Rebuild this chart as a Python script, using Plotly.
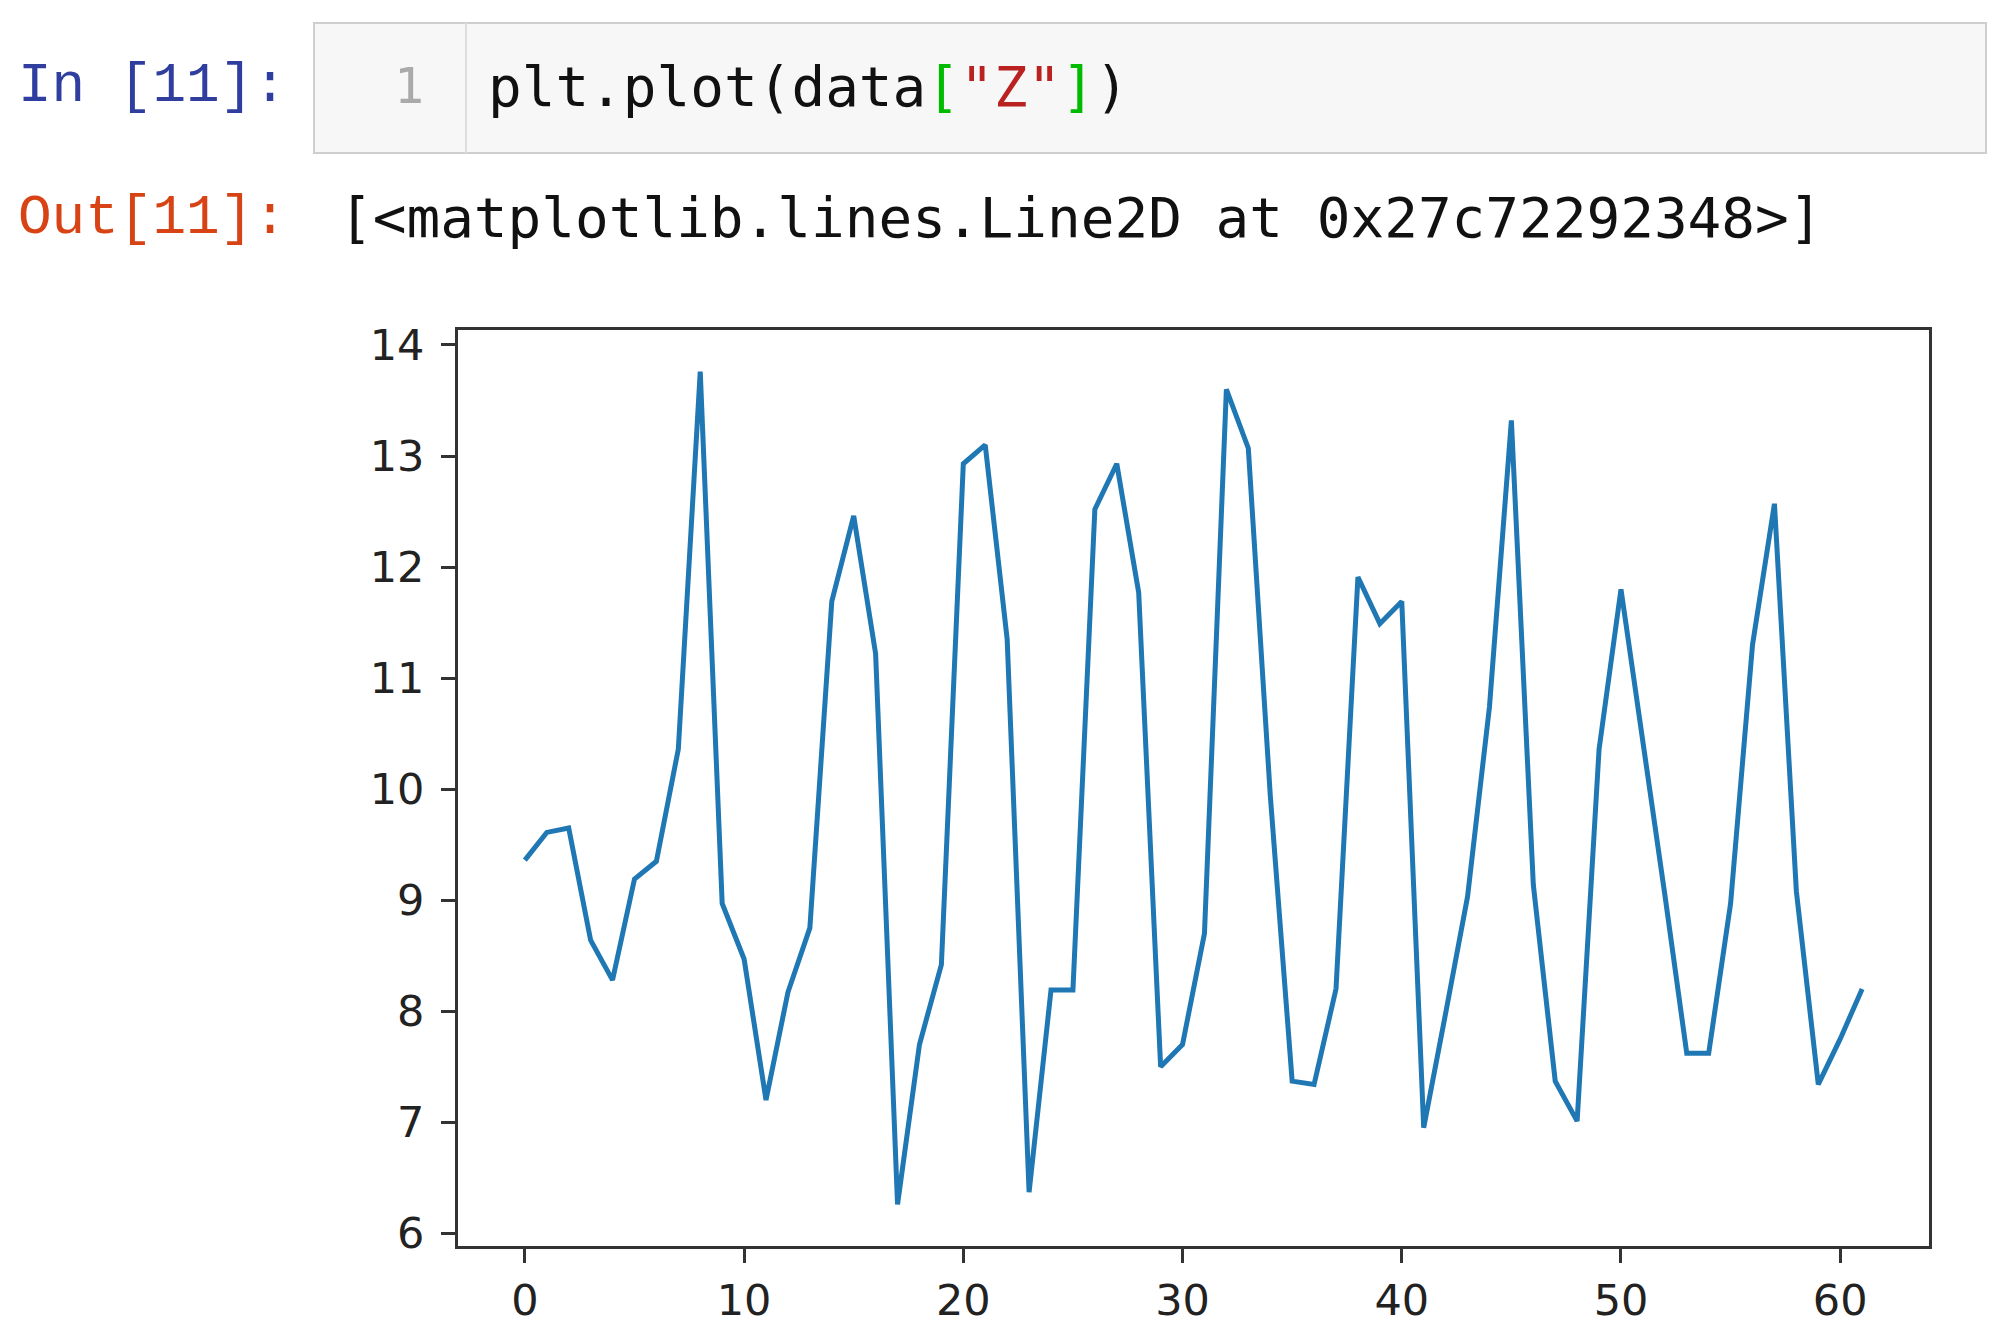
import plotly.graph_objects as go

# ---- data ----
z_index = list(range(62))
z_values = [9.36, 9.61, 9.65, 8.64, 8.28, 9.19, 9.35, 10.36, 13.76, 8.97,
            8.47, 7.20, 8.17, 8.75, 11.69, 12.46, 11.22, 6.26, 7.70, 8.42,
            12.93, 13.10, 11.35, 6.37, 8.19, 8.19, 12.52, 12.93, 11.77, 7.50,
            7.70, 8.70, 13.60, 13.07, 9.95, 7.37, 7.34, 8.20, 11.91, 11.49,
            11.69, 6.95, 7.98, 9.03, 10.74, 13.32, 9.14, 7.37, 7.01, 10.36,
            11.80, 10.45, 9.05, 7.62, 7.62, 8.97, 11.30, 12.57, 9.08, 7.34,
            7.75, 8.20]
x_ticks = [0, 10, 20, 30, 40, 50, 60]
y_ticks = [6, 7, 8, 9, 10, 11, 12, 13, 14]

W, H = 2012, 1335
OFF = 8  # page body offset
def px(x):
    return (x - OFF) / W
def py(y):
    return 1 - (y - OFF) / H

# matplotlib-style 5% margins
xmin, xmax = min(z_index), max(z_index)
ymin, ymax = min(z_values), max(z_values)
xr = [xmin - 0.05 * (xmax - xmin), xmax + 0.05 * (xmax - xmin)]
yr = [ymin - 0.05 * (ymax - ymin), ymax + 0.05 * (ymax - ymin)]

fig = go.Figure()
fig.add_trace(go.Scatter(x=z_index, y=z_values, mode="lines",
                         line=dict(color="#1f77b4", width=5), showlegend=False))

axis_common = dict(showgrid=False, zeroline=False, showline=True, mirror=True,
                   linecolor="#333333", linewidth=3, ticks="outside", ticklen=14,
                   tickwidth=3, tickcolor="#333333", automargin=False,
                   tickfont=dict(family="DejaVu Sans", size=43, color="#222222"))

fig.update_layout(
    width=W, height=H,
    margin=dict(l=0, r=0, t=0, b=0, pad=0),
    paper_bgcolor="white", plot_bgcolor="white",
    xaxis=dict(domain=[px(458), px(1929)], range=xr, tickvals=x_ticks, **axis_common),
    yaxis=dict(domain=[py(1246), py(330)], range=yr, tickvals=y_ticks,
               ticklabelstandoff=8, **axis_common),
)

# notebook cell chrome
fig.add_shape(type="rect", xref="paper", yref="paper",
              x0=px(314), x1=px(1986), y0=py(153), y1=py(23),
              fillcolor="#f7f7f7", line=dict(color="#cfcfcf", width=2), layer="below")
fig.add_shape(type="line", xref="paper", yref="paper",
              x0=px(466), x1=px(466), y0=py(153), y1=py(23),
              line=dict(color="#dddddd", width=2))

mono = "DejaVu Sans Mono"
fig.add_annotation(xref="paper", yref="paper", x=px(16), y=py(86),
                   xanchor="left", yanchor="middle", showarrow=False,
                   text="In [11]:",
                   font=dict(family="Liberation Mono", size=56, color="#303F9F"))
fig.add_annotation(xref="paper", yref="paper", x=px(409), y=py(86),
                   xanchor="center", yanchor="middle", showarrow=False,
                   text="1",
                   font=dict(family=mono, size=50, color="#aaaaaa"))
fig.add_annotation(xref="paper", yref="paper", x=px(486), y=py(86),
                   xanchor="left", yanchor="middle", showarrow=False,
                   text=('plt.plot(data<span style="color:#00bb00">[</span>'
                         '<span style="color:#BA2121">"Z"</span>'
                         '<span style="color:#00bb00">]</span>)'),
                   font=dict(family=mono, size=56, color="#111111"))
fig.add_annotation(xref="paper", yref="paper", x=px(16), y=py(218),
                   xanchor="left", yanchor="middle", showarrow=False,
                   text="Out[11]:",
                   font=dict(family="Liberation Mono", size=56, color="#D84315"))
fig.add_annotation(xref="paper", yref="paper", x=px(337), y=py(218),
                   xanchor="left", yanchor="middle", showarrow=False,
                   text="[&lt;matplotlib.lines.Line2D at 0x27c72292348&gt;]",
                   font=dict(family=mono, size=56, color="#111111"))

fig.write_html("out.html")
